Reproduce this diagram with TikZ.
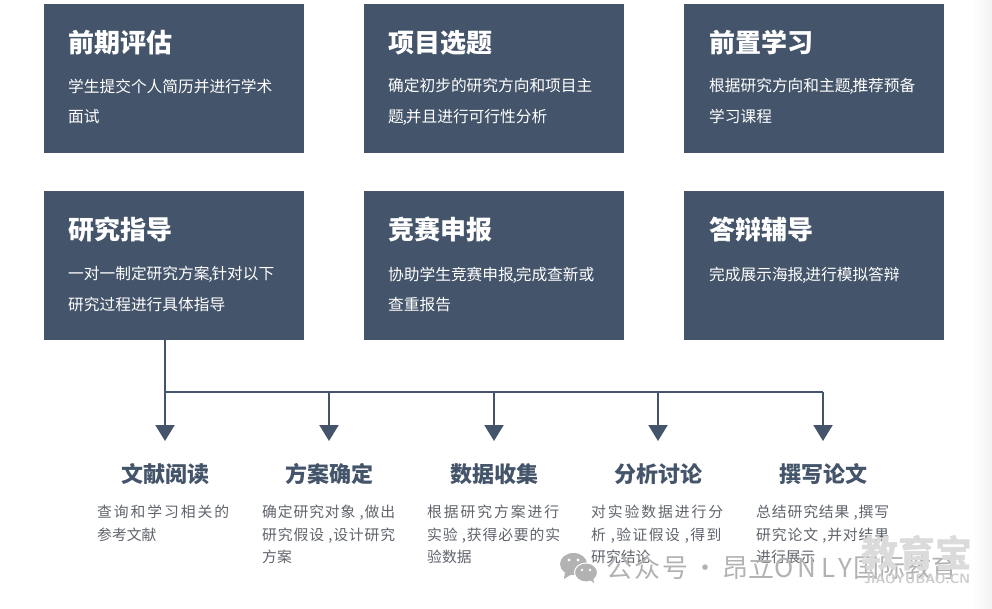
\documentclass[tikz,border=0pt]{standalone}
\usepackage{fontspec}
\usepackage{tikz}
\usetikzlibrary{arrows.meta}
\newfontfamily\cjk{Noto Sans CJK SC}
\definecolor{slate}{RGB}{68,84,106}
\definecolor{bodygray}{RGB}{96,100,108}
\definecolor{markgray}{RGB}{178,178,178}
\newcommand{\tightcomma}{\hbox to 2pt{\hss,\hss}}
\newcommand{\spaced}[2]{{\addfontfeature{LetterSpace=#1}#2}}
\tikzset{
  cardbox/.style={fill=slate,minimum width=260pt,minimum height=149pt,anchor=north west,inner sep=0pt},
  cardhead/.style={anchor=west,inner sep=0pt,text=white,font=\cjk\bfseries\fontsize{26}{26}\selectfont},
  cardtext/.style={anchor=north west,inner sep=0pt,align=left,text=white,font=\cjk\fontsize{15.7}{30.5}\selectfont},
  stephead/.style={inner sep=0pt,text=slate,font=\cjk\bfseries\fontsize{22}{22}\selectfont},
  steptext/.style={anchor=north west,inner sep=0pt,align=left,text=bodygray,font=\cjk\fontsize{14.8}{22.5}\selectfont},
  steparrow/.style={draw=slate,line width=2.2pt,-{Triangle[width=19pt,length=16pt]}},
  markfont/.style={inner sep=0pt,text=markgray}
}
\begin{document}
\begin{tikzpicture}[x=1pt,y=1pt]
  \useasboundingbox (0,0) rectangle (992,608);
  \fill[white] (0,0) rectangle (992,608);
  \shade[left color=white,right color=black!5] (972,0) rectangle (992,608);

  % upper cards
  \node[cardbox] (eval) at (44,604) {};
  \node[cardbox] (topic) at (364,604) {};
  \node[cardbox] (prep) at (684,604) {};
  \node[cardhead] (evalhead) at (68,565.5) {前期评估};
  \node[cardhead] (topichead) at (388,565.5) {项目选题};
  \node[cardhead] (prephead) at (709,565.5) {前置学习};
  \node[cardtext] (evaltext) at (68,529.5) {学生提交个人简历并进行学术\\面试};
  \node[cardtext] (topictext) at (388,529.5) {确定初步的研究方向和项目主\\题\tightcomma 并且进行可行性分析};
  \node[cardtext] (preptext) at (709,529.5) {根据研究方向和主题\tightcomma 推荐预备\\学习课程};

  % lower cards
  \node[cardbox] (guide) at (44,417) {};
  \node[cardbox] (contest) at (364,417) {};
  \node[cardbox] (defense) at (684,417) {};
  \node[cardhead] (guidehead) at (68,378.5) {研究指导};
  \node[cardhead] (contesthead) at (388,378.5) {竞赛申报};
  \node[cardhead] (defensehead) at (709,378.5) {答辩辅导};
  \node[cardtext] (guidetext) at (68,341.5) {一对一制定研究方案\tightcomma 针对以下\\研究过程进行具体指导};
  \node[cardtext] (contesttext) at (388,341.5) {协助学生竞赛申报\tightcomma 完成查新或\\查重报告};
  \node[cardtext] (defensetext) at (709,341.5) {完成展示海报\tightcomma 进行模拟答辩};

  % steps
  \node[stephead] (read) at (165,134) {文献阅读};
  \node[stephead] (plan) at (329,134) {方案确定};
  \node[stephead] (data) at (494,134) {数据收集};
  \node[stephead] (talk) at (658,134) {分析讨论};
  \node[stephead] (write) at (823,134) {撰写论文};
  \node[steptext] (readtext) at (97,103) {\spaced{13}{查询和学习相关的}\\参考文献};
  \node[steptext] (plantext) at (262,103) {\spaced{6}{确定研究对象 ,做出}\\\spaced{6}{研究假设 ,设计研究}\\方案};
  \node[steptext] (datatext) at (427,103) {\spaced{13}{根据研究方案进行}\\\spaced{6}{实验 ,获得必要的实}\\验数据};
  \node[steptext] (talktext) at (591,103) {\spaced{13}{对实验数据进行分}\\\spaced{10}{析 ,验证假设 ,得到}\\研究结论};
  \node[steptext] (writetext) at (756,103) {\spaced{6}{总结研究结果 ,撰写}\\\spaced{6}{研究论文 ,并对结果}\\进行展示};

  % connectors
  \coordinate (busstart) at (read |- 0,216);
  \coordinate (busend) at (write |- 0,216);
  \coordinate (readtip) at (read |- 0,167);
  \coordinate (plantip) at (plan |- 0,167);
  \coordinate (datatip) at (data |- 0,167);
  \coordinate (talktip) at (talk |- 0,167);
  \coordinate (writetip) at (write |- 0,167);
  \draw[steparrow] (guide.south -| read) -- (readtip);
  \draw[slate,line width=2.2pt] (busstart) -- (busend);
  \draw[steparrow] (plan |- busstart) -- (plantip);
  \draw[steparrow] (data |- busstart) -- (datatip);
  \draw[steparrow] (talk |- busstart) -- (talktip);
  \draw[steparrow] (busend) -- (writetip);

  % watermarks
  \fill[markgray] (573.5,44) ellipse[x radius=13.5,y radius=11];
  \fill[markgray] (565,36) -- (564,29) -- (572,34) -- cycle;
  \fill[white] (569,48) circle[radius=1.6] (578,48) circle[radius=1.6];
  \filldraw[markgray,draw=white,line width=1pt] (586,35.5) ellipse[x radius=11.5,y radius=9.5];
  \fill[markgray] (590,28) -- (594,25) -- (593,31) -- cycle;
  \fill[white] (582,38) circle[radius=1.4] (590,38) circle[radius=1.4];
  \node[markfont,anchor=west,font=\cjk\fontsize{26}{26}\selectfont] (wechat) at (606,40) {\spaced{8}{公众号}\kern-2pt{} · \kern-2pt{}昂立\spaced{18}{ONLY}\kern2pt{}国际教育};
  \node[markfont,anchor=center,text=black!14,font=\cjk\bfseries\fontsize{37}{37}\selectfont] (brand) at (917,55) {教育宝};
  \node[markfont,anchor=center,text=black!20,font=\sffamily\bfseries\fontsize{13.5}{13.5}\selectfont] (brandurl) at (917,29) {JIAOYUBAO.CN};
\end{tikzpicture}
\end{document}
